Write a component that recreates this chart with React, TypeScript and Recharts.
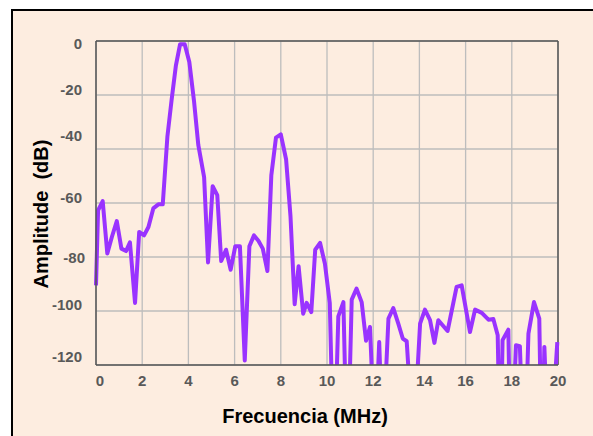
import React from 'react';
import { LineChart, Line, XAxis, YAxis, CartesianGrid, ReferenceLine } from 'recharts';

const freqMHz = [
  0.0, 0.09, 0.29, 0.49, 0.69, 0.9, 1.1, 1.3, 1.47, 1.69, 1.87, 2.08, 2.27, 2.48, 2.7, 2.89,
  3.09, 3.27, 3.46, 3.64, 3.84, 4.04, 4.24, 4.43, 4.68, 4.85, 5.05, 5.25, 5.42, 5.63, 5.83,
  6.03, 6.23, 6.44, 6.64, 6.84, 7.03, 7.22, 7.42, 7.59, 7.79, 8.0, 8.23, 8.42, 8.6, 8.77,
  8.97, 9.12, 9.32, 9.49, 9.7, 9.91, 10.12, 10.3, 10.49, 10.71, 10.88, 11.07, 11.28, 11.5,
  11.69, 11.86, 12.08, 12.26, 12.41, 12.66, 12.87, 13.08, 13.28, 13.45, 13.74, 14.03, 14.24,
  14.46, 14.65, 14.82, 15.22, 15.61, 15.83, 16.19, 16.41, 16.7, 16.99, 17.2, 17.39, 17.5,
  17.6, 17.85, 17.96, 18.18, 18.35, 18.54, 18.72, 18.96, 19.19, 19.3, 19.41, 19.62, 19.97,
];

const amplitudeDb = [
  -90.5, -62.7, -59.3, -78.7, -72.5, -66.7, -76.9, -77.8, -74.6, -97, -70.7, -72, -68.9, -62, -60.5, -60.5,
  -35.5, -22, -9, -1.2, -1.2, -7.8, -22, -38.6, -50.4, -82, -53.8, -57.1, -81.5, -77.3, -84.7,
  -76, -76, -118.3, -76, -72, -74, -76.9, -85.2, -49.7, -35.8, -34.6, -43.9, -65, -97.5, -83.4,
  -101, -97, -100.4, -77.3, -74.8, -82.5, -97, -160, -102, -96.7, -160, -95.8, -91.7, -96.7,
  -111, -105.9, -150, -111.5, -150, -102.8, -98.9, -104.5, -110.2, -111.2, -150, -104.7, -99.5,
  -103.4, -111.8, -103.4, -107.4, -91.1, -90.5, -107.8, -99.5, -100.7, -103.2, -103, -109, -160,
  -110.8, -106.9, -160, -112.7, -113, -160, -108.4, -96.7, -102.8, -160, -113.3, -160, -111.5,
];

const xTicks = [0, 2, 4, 6, 8, 10, 12, 14, 16, 18, 20];
const yTicks = [0, -20, -40, -60, -80, -100, -120];

const xTickNudge: Record<number, number> = { 0: 4, 14: 5 };
const yTickNudge: Record<number, number> = { 0: 2.6, [-20]: -5.4, [-40]: -13.7, [-60]: -5.4, [-80]: 1, [-100]: -6.7, [-120]: -8.3 };
const yTickNudgeX: Record<number, number> = { [-80]: 3 };

const data = freqMHz.map((f, i) => ({ f, a: amplitudeDb[i] }));

const FONT = "'Liberation Sans', Arial, Helvetica, sans-serif";
const TICK_COLOR = '#595959';

const XTick = (props: any) => {
  const { x, payload } = props;
  const v = payload.value as number;
  const dx = xTickNudge[v] ?? 0;
  return (
    <text x={x + dx} y={386} textAnchor="middle" fontFamily={FONT} fontSize={15} fontWeight="bold" fill={TICK_COLOR}>
      {v}
    </text>
  );
};

const YTick = (props: any) => {
  const { y, payload } = props;
  const v = payload.value as number;
  const dy = yTickNudge[v] ?? 0;
  const dx = yTickNudgeX[v] ?? 0;
  return (
    <text x={82 + dx} y={y + dy + 5.4} textAnchor="end" fontFamily={FONT} fontSize={15} fontWeight="bold" fill={TICK_COLOR}>
      {v}
    </text>
  );
};

export default function App() {
  return (
    <div style={{ position: 'absolute', left: 0, top: 0, width: 593, height: 436, background: '#ffffff', overflow: 'hidden' }}>
      <div
        style={{
          position: 'absolute',
          left: 11,
          top: 9,
          width: 620,
          height: 460,
          background: '#FDEDE0',
          borderLeft: '2px solid #000',
          borderTop: '2px solid #000',
        }}
      />
      <div style={{ position: 'absolute', left: 0, top: 0 }}>
        <LineChart width={593} height={436} data={data} margin={{ top: 41, right: 35, bottom: 41, left: 36 }}>
          <CartesianGrid stroke="#BDBDBD" strokeWidth={1.3} />
          <XAxis
            type="number"
            dataKey="f"
            domain={[0, 20]}
            ticks={xTicks}
            height={30}
            axisLine={{ stroke: '#555555', strokeWidth: 1.5 }}
            tickLine={false}
            tick={<XTick />}
            interval={0}
            label={{
              content: () => (
                <text x={305} y={423} textAnchor="middle" fontFamily={FONT} fontSize={20} fontWeight="bold" fill="#000">
                  Frecuencia (MHz)
                </text>
              ),
            }}
          />
          <YAxis
            type="number"
            domain={[-120, 0]}
            ticks={yTicks}
            allowDataOverflow
            width={60}
            axisLine={{ stroke: '#555555', strokeWidth: 1.5 }}
            tickLine={false}
            tick={<YTick />}
            interval={0}
            label={{
              content: () => (
                <text
                  x={48}
                  y={214}
                  transform="rotate(-90 48 214)"
                  textAnchor="middle"
                  fontFamily={FONT}
                  fontSize={20}
                  fontWeight="bold"
                  fill="#000"
                  style={{ whiteSpace: 'pre' }}
                >
                  {'Amplitude  (dB)'}
                </text>
              ),
            }}
          />
          <ReferenceLine y={0} stroke="#555555" strokeWidth={1.5} />
          <ReferenceLine x={20} stroke="#555555" strokeWidth={1.5} />
          <Line
            type="linear"
            dataKey="a"
            stroke="#9933FF"
            strokeWidth={4}
            strokeLinejoin="round"
            dot={false}
            activeDot={false}
            isAnimationActive={false}
          />
        </LineChart>
      </div>
    </div>
  );
}
